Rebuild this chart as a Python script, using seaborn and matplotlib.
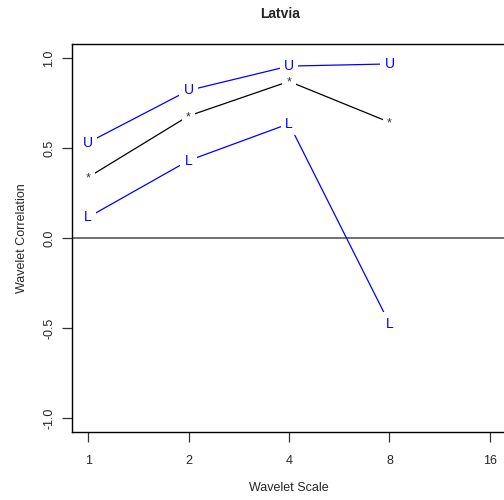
"""Wavelet correlation by scale for Latvia, with upper and lower bounds."""
import pandas as pd
import numpy as np
import seaborn as sns
import matplotlib
matplotlib.use("Agg")
import matplotlib.pyplot as plt

# values
scales = [1, 2, 4, 8]
upper = [0.53, 0.82, 0.955, 0.967]
corr = [0.337, 0.678, 0.870, 0.643]
lower = [0.115, 0.43, 0.635, -0.475]
xticks = [1, 2, 4, 8, 16]
yticks = [-1.0, -0.5, 0.0, 0.5, 1.0]

sns.set_style("white")
plt.rcParams['font.family'] = ['Liberation Sans', 'DejaVu Sans']

df = pd.DataFrame({"scale": scales * 3,
                   "value": upper + corr + lower,
                   "series": ["U"] * 4 + ["*"] * 4 + ["L"] * 4})
colors = {"U": "#0000FF", "*": "black", "L": "#0000FF"}

fig = plt.figure(figsize=(5.04, 5.0), dpi=100)
ax = fig.add_axes([72 / 504, 1 - 432.4 / 500, 434 / 504, (432.4 - 43.6) / 500])

ax.axhline(0, color="0.35", lw=1.2, zorder=1)
for name, grp in df.groupby("series", sort=False):
    sns.lineplot(data=grp, x="scale", y="value", color=colors[name], lw=0.9,
                 ax=ax, legend=False, zorder=2)
    # type="b" look: letters sit in a small white gap on the line
    for x, y in zip(grp["scale"], grp["value"]):
        ax.text(x, y, name, ha="center", va="center_baseline" if name == "*" else "center",
                color=colors[name] if name != "*" else "0.2",
                fontsize=10 if name != "*" else 9, zorder=3,
                bbox=dict(fc="white", ec="none", pad=3))

ax.set_xscale("log", base=2)
ax.set_xlim(2 ** -0.16, 2 ** 4.16)
ax.set_ylim(-1.08, 1.08)
ax.set_xticks(xticks)
ax.set_xticklabels([str(t) for t in xticks])
ax.set_yticks(yticks)
ax.set_yticklabels(["-1.0", "-0.5", "0.0", "0.5", "1.0"], rotation=90, va="center")
ax.minorticks_off()
ax.tick_params(direction="out", length=7, width=0.9, labelsize=9, pad=5,
               bottom=True, left=True, color="0.2")
ax.tick_params(axis="x", pad=9)
for s in ["left", "top", "bottom"]:
    ax.spines[s].set_color("black")
    ax.spines[s].set_linewidth(1.0)
ax.spines["right"].set_visible(False)

ax.set_xlabel("Wavelet Scale", fontsize=9, labelpad=11)
ax.set_ylabel("Wavelet Correlation", fontsize=9, labelpad=11)
fig.text(280 / 504, 1 - 14 / 500, "Latvia", ha="center", va="center",
         fontsize=10, fontweight="bold")

fig.savefig("out.png", dpi=100)
